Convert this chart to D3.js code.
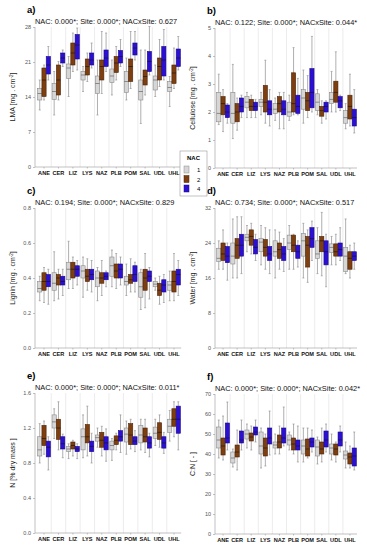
<!DOCTYPE html>
<html>
<head>
<meta charset="utf-8">
<script src="https://cdn.jsdelivr.net/npm/d3@7/dist/d3.min.js"></script>
<style>
  body { margin: 0; background: #fff; }
  svg { font-family: "Liberation Sans", Arial, sans-serif; display: block; }
  .axis path, .axis line { stroke: #999; stroke-width: 0.6; }
  .axis text { fill: #555; font-size: 5.5px; }
  .xaxis text { fill: #111; font-size: 5.6px; font-weight: 700; }
</style>
</head>
<body>
<div id="root"></div>
<script>
const sites = ['ANE','CER','LIZ','LYS','NAZ','PLB','POM','SAL','UDL','UHL'];
const groups = ['1','2','4'];
const colors = ['#d6d6d6','#7d3e10','#2c10d2'];
const strokes = ['#8a8a8a','#4e2408','#1a0888'];

// [whisker low, q1, median, q3, whisker high] per site
const lma1 = [[11.4,13.4,14.7,15.7,17.4],[10.4,13.5,15.1,16.7,19.1],[14.1,17.7,19.8,20.6,22.1],[15.1,17.4,18.4,19.1,20.1],[10.4,14.7,16.7,18.2,21.4],[14.4,16.9,18.2,19.6,21.4],[13.4,14.9,17.1,19.1,21.8],[8.7,13.4,15.1,17.4,23.4],[14.1,15.4,17.4,18.2,20.4],[12.1,15.1,15.9,17.1,18.1]];
const lma2 = [[13.4,14.1,17.4,19.8,20.4],[13.4,14.4,17.4,20.4,21.1],[19.1,20.4,22.8,24.8,26.8],[17.1,18.4,20.1,21.6,22.8],[14.7,17.4,20.1,21.4,27.1],[17.4,18.9,20.8,22.1,24.1],[15.7,17.1,20.1,21.6,27.1],[14.4,16.4,18.1,19.4,23.4],[16.1,17.4,20.1,21.8,25.5],[15.7,16.7,18.8,20.4,23.8]];
const lma4 = [[17.4,18.6,20.4,22.1,24.1],[20.1,20.8,21.8,22.8,23.4],[19.4,21.6,24.4,26.5,27.8],[19.8,20.4,21.4,22.8,24.8],[19.1,20.1,21.8,23.4,26.8],[20.1,20.8,22.1,23.3,25.5],[21.4,22.4,23.8,24.8,27.1],[18.4,19.1,21.1,23.1,28.1],[17.4,18.2,21.4,24.1,27.5],[19.4,20.1,21.8,23.6,26.1]];

const cel1 = [[1.55,1.65,1.95,2.7,3.35],[1.05,1.6,1.95,2.7,3.7],[1.8,2.15,2.35,2.55,2.7],[1.9,2.2,2.35,2.45,2.7],[1.7,1.95,2.1,2.3,2.5],[1.7,1.85,2.0,2.35,2.6],[1.6,2.1,2.5,2.8,3.5],[1.9,2.05,2.35,2.65,2.8],[2.0,2.3,2.45,2.7,3.45],[1.4,1.6,1.8,2.05,2.3]];
const cel2 = [[1.3,1.9,2.3,2.55,2.8],[1.35,1.65,2.0,2.3,2.5],[1.8,2.05,2.2,2.45,2.6],[1.6,2.0,2.35,2.95,3.85],[1.4,2.0,2.3,2.55,2.7],[1.9,2.0,2.3,3.4,4.3],[1.8,2.05,2.4,2.7,3.3],[1.6,1.85,2.05,2.2,2.4],[2.0,2.35,2.7,3.1,4.15],[1.5,1.75,2.2,2.6,3.35]];
const cel4 = [[1.6,1.8,2.0,2.25,2.3],[1.8,2.0,2.2,2.5,2.6],[1.8,2.05,2.2,2.35,2.45],[1.5,1.9,2.1,2.4,2.8],[1.4,1.9,2.1,2.4,2.7],[1.9,1.95,2.2,2.6,3.2],[2.0,2.15,2.7,3.55,4.7],[1.75,2.0,2.2,2.35,2.4],[2.05,2.15,2.4,2.55,2.6],[1.25,1.5,1.8,2.1,2.8]];

const lig1 = [[0.27,0.32,0.34,0.38,0.41],[0.27,0.33,0.37,0.43,0.55],[0.34,0.39,0.45,0.49,0.61],[0.29,0.40,0.44,0.47,0.52],[0.27,0.35,0.40,0.44,0.46],[0.35,0.41,0.47,0.52,0.56],[0.30,0.36,0.38,0.41,0.48],[0.22,0.29,0.35,0.43,0.45],[0.33,0.35,0.365,0.38,0.40],[0.27,0.33,0.36,0.38,0.44]];
const lig2 = [[0.26,0.33,0.38,0.43,0.46],[0.28,0.36,0.40,0.42,0.45],[0.34,0.40,0.45,0.49,0.52],[0.33,0.38,0.41,0.45,0.51],[0.30,0.37,0.40,0.43,0.50],[0.34,0.40,0.44,0.48,0.54],[0.32,0.37,0.39,0.42,0.51],[0.23,0.33,0.40,0.45,0.54],[0.25,0.30,0.33,0.37,0.41],[0.27,0.32,0.38,0.44,0.54]];
const lig4 = [[0.25,0.35,0.38,0.42,0.45],[0.30,0.36,0.38,0.41,0.45],[0.36,0.41,0.45,0.47,0.50],[0.32,0.39,0.42,0.45,0.50],[0.35,0.39,0.41,0.43,0.44],[0.36,0.40,0.45,0.48,0.52],[0.32,0.38,0.42,0.47,0.49],[0.28,0.38,0.41,0.44,0.46],[0.26,0.32,0.36,0.39,0.42],[0.30,0.36,0.42,0.45,0.50]];

const wat1 = [[18,19.8,20.5,22.8,24.5],[16,19.2,21,24,29.5],[22,24.5,25.3,26,28],[19,22,24.2,25,28],[16,21,22,24.5,27],[18,22.5,24,25.8,28],[16,21,24.5,26.2,28.5],[17,20.5,21.5,24.5,27.5],[19,21.8,23,23.8,25.5],[17,17.5,21,23,29.5]];
const wat2 = [[18,20,21.5,24,27],[16,20.5,23.5,25,30],[21.5,23.5,25.5,27,28.5],[18,21,23,24.8,27.5],[18,20.5,22.5,24,26.5],[18,22,23.5,25.8,26],[15,18.5,23.5,25.5,27],[16.5,22,24.5,25.5,31],[19,21,22,23.8,26],[16,18,20.5,22,23.5]];
const wat4 = [[15.5,19.5,21,23.2,24],[17,21,23.5,26,30],[20,21.5,23,24.8,26],[17,20,21.5,23.2,27],[17.5,20,21.5,23.2,25],[18.5,20.5,22,23.5,24.5],[20,23,25,27.5,29],[14,19,22,24.5,26],[20,21,22.5,24,27.5],[18,20,21,22,24]];

const nit1 = [[0.8,0.88,0.95,1.1,1.25],[1.08,1.2,1.27,1.35,1.42],[0.85,0.93,0.96,0.99,1.02],[0.86,0.95,1.1,1.19,1.35],[0.98,1.05,1.09,1.12,1.2],[0.83,0.95,1.0,1.05,1.08],[0.9,1.04,1.13,1.2,1.28],[0.95,1.03,1.12,1.23,1.3],[1.0,1.08,1.14,1.21,1.3],[1.05,1.15,1.22,1.3,1.4]];
const nit2 = [[0.9,1.0,1.08,1.23,1.28],[0.95,1.07,1.2,1.3,1.5],[0.88,0.96,1.0,1.04,1.06],[0.88,1.03,1.1,1.24,1.45],[0.88,0.98,1.06,1.15,1.22],[0.95,1.01,1.06,1.11,1.14],[0.96,1.01,1.12,1.25,1.3],[0.92,1.04,1.1,1.2,1.3],[0.98,1.07,1.15,1.26,1.35],[1.1,1.22,1.3,1.42,1.5]];
const nit4 = [[0.72,0.87,0.98,1.05,1.1],[0.86,0.96,1.02,1.1,1.13],[0.85,0.93,0.96,0.99,1.02],[0.8,0.93,0.99,1.05,1.14],[0.82,0.95,1.03,1.1,1.19],[0.92,1.05,1.1,1.17,1.35],[0.93,1.01,1.05,1.1,1.17],[0.87,0.97,1.03,1.1,1.14],[0.91,0.97,1.03,1.1,1.15],[0.95,1.14,1.3,1.45,1.5]];

const cn1 = [[38,43,47,53.5,57],[33.5,35.5,38,41,42.5],[43,47.5,50,52,55],[33,40,44,51,53],[40,43,44.5,46,50],[42,44.5,47,49.5,51],[36,40,44,47,53],[35,39,43.5,47,48.5],[37,40,43,45,50],[33,37.5,39.5,41.5,46]];
const cn2 = [[37,39.5,44,48,59],[32,38.5,41,44.5,52],[42,46.5,48.5,50.5,54],[34,39,43,48,50],[40,43,46,49.5,54],[40,42,45,48,55],[38,39,42.5,47.5,53],[36,40,42.5,46,53],[36,39.5,42.5,45,46],[33,35,38.5,40.5,44]];
const cn4 = [[42,45.5,48,55.5,66],[42,45.5,47,51.5,57],[46,49.5,51,53.5,57],[39.5,45,48,53,61.5],[44,45.5,48,53,63.5],[36,42,44,47,54],[41,43.5,46,48,52],[41,43.5,47,51.5,55],[41,44,47,51,54],[32,34,39,43,51]];

const panels = [
  {tag:'a)', stats:'NAC: 0.000*; Site: 0.000*; NACxSite: 0.627', label:'LMA [mg . cm', unit:']', max:28, ticks:[0,7,14,21,28], fmt:d3.format('d'), left:true, top:27, data:[lma1,lma2,lma4]},
  {tag:'b)', stats:'NAC: 0.122; Site: 0.000*; NACxSite: 0.044*', label:'Cellulose [mg . cm', unit:']', max:5, ticks:[0,1,2,3,4,5], fmt:d3.format('d'), left:false, top:28, data:[cel1,cel2,cel4]},
  {tag:'c)', stats:'NAC: 0.194; Site: 0.000*; NACxSite: 0.829', label:'Lignin [mg . cm', unit:']', max:0.8, ticks:[0,0.2,0.4,0.6,0.8], fmt:d3.format('.1f'), left:true, top:208, data:[lig1,lig2,lig4]},
  {tag:'d)', stats:'NAC: 0.734; Site: 0.000*; NACxSite: 0.517', label:'Water [mg . cm', unit:']', max:32, ticks:[0,8,16,24,32], fmt:d3.format('d'), left:false, top:208, data:[wat1,wat2,wat4]},
  {tag:'e)', stats:'NAC: 0.000*; Site: 0.000*; NACxSite: 0.011*', label:'N [% dry mass ]', unit:null, max:1.6, ticks:[0,0.4,0.8,1.2,1.6], fmt:d3.format('.1f'), left:true, top:393, data:[nit1,nit2,nit4]},
  {tag:'f)', stats:'NAC: 0.000*; Site: 0.000*; NACxSite: 0.042*', label:'C:N [ - ]', unit:null, max:70, ticks:[0,10,20,30,40,50,60,70], fmt:d3.format('d'), left:false, top:394, data:[cn1,cn2,cn4]}
];

const W = 367, H = 550;
const plotH = 140;
const svg = d3.select('#root').append('svg').attr('width', W).attr('height', H);

panels.forEach(p => {
  const axisX = p.left ? 35 : 215;
  const x = d3.scaleBand().domain(sites).range(p.left ? [36.8, 181.2] : [216, 357]);
  const y = d3.scaleLinear().domain([0, p.max]).range([p.top + plotH, p.top]);
  const bw = x.bandwidth();
  const g = svg.append('g');

  // panel letter + stats
  g.append('text').text(p.tag)
    .attr('x', axisX - 8).attr('y', p.top - 14)
    .style('font-size', '9.5px').style('font-weight', 700);
  g.append('text').text(p.stats)
    .attr('x', axisX).attr('y', p.top - 3)
    .style('font-size', '7.4px').attr('fill', '#111');

  // faint separators between sites
  g.selectAll('line.sep').data(sites.slice(1)).enter().append('line')
    .attr('x1', d => x(d)).attr('x2', d => x(d))
    .attr('y1', p.top).attr('y2', p.top + plotH)
    .attr('stroke', '#e4e4e4').attr('stroke-width', 0.7);

  // y axis
  g.append('g').attr('class', 'axis')
    .attr('transform', `translate(${axisX},0)`)
    .call(d3.axisLeft(y).tickValues(p.ticks).tickFormat(p.fmt).tickSize(2).tickPadding(2))
    .call(s => s.select('.domain').attr('d', `M0,${p.top}V${p.top + plotH}`));

  // x axis
  g.append('g').attr('class', 'axis xaxis')
    .attr('transform', `translate(0,${p.top + plotH})`)
    .call(d3.axisBottom(x).tickSize(1.5).tickPadding(3))
    .call(s => s.select('.domain').attr('d', `M${axisX},0H${x.range()[1]}`));

  // y label
  const lab = g.append('text')
    .attr('transform', `translate(${axisX - 20},${p.top + plotH / 2}) rotate(-90)`)
    .attr('text-anchor', 'middle')
    .style('font-size', '7px').attr('fill', '#222');
  lab.append('tspan').text(p.label);
  if (p.unit) {
    lab.append('tspan').text('-2').attr('dy', '-2.5').style('font-size', '4.5px');
    lab.append('tspan').text(p.unit).attr('dy', '2.5');
  }

  // boxes
  const offs = [-4.3, 0, 4.3];
  const boxW = 4.2;
  p.data.forEach((arr, gi) => {
    const cx = d => x(sites[d.i]) + bw / 2 + offs[gi];
    const rows = arr.map((v, i) => ({i, lo:v[0], q1:v[1], md:v[2], q3:v[3], hi:v[4]}));
    const bg = g.append('g');
    bg.selectAll('line.wh').data(rows).enter().append('line')
      .attr('x1', cx).attr('x2', cx)
      .attr('y1', d => y(d.lo)).attr('y2', d => y(d.hi))
      .attr('stroke', '#8c8c8c').attr('stroke-width', 0.7);
    ['lo','hi'].forEach(k => {
      bg.selectAll('line.cap' + k).data(rows).enter().append('line')
        .attr('x1', d => cx(d) - 1).attr('x2', d => cx(d) + 1)
        .attr('y1', d => y(d[k])).attr('y2', d => y(d[k]))
        .attr('stroke', '#8c8c8c').attr('stroke-width', 0.6);
    });
    bg.selectAll('rect').data(rows).enter().append('rect')
      .attr('x', d => cx(d) - boxW / 2).attr('width', boxW)
      .attr('y', d => y(d.q3)).attr('height', d => y(d.q1) - y(d.q3))
      .attr('fill', colors[gi]).attr('stroke', strokes[gi]).attr('stroke-width', 0.6);
    bg.selectAll('line.md').data(rows).enter().append('line')
      .attr('x1', d => cx(d) - boxW / 2).attr('x2', d => cx(d) + boxW / 2)
      .attr('y1', d => y(d.md)).attr('y2', d => y(d.md))
      .attr('stroke', gi === 0 ? '#555' : '#111').attr('stroke-width', 0.6);
  });
});

// legend
const leg = svg.append('g').attr('transform', 'translate(180,151)');
leg.append('rect').attr('width', 27).attr('height', 45)
  .attr('fill', '#fff').attr('stroke', '#999').attr('stroke-width', 0.6);
leg.append('text').text('NAC').attr('x', 13.5).attr('y', 9)
  .attr('text-anchor', 'middle').style('font-size', '6px').style('font-weight', 700);
const items = leg.selectAll('g.it').data(groups).enter().append('g')
  .attr('transform', (d, i) => `translate(4,${15 + i * 9.5})`);
items.append('rect').attr('width', 5).attr('height', 7)
  .attr('fill', (d, i) => colors[i]).attr('stroke', (d, i) => strokes[i]).attr('stroke-width', 0.5);
items.append('text').text(d => d).attr('x', 13).attr('y', 6)
  .style('font-size', '6px');
</script>
</body>
</html>
